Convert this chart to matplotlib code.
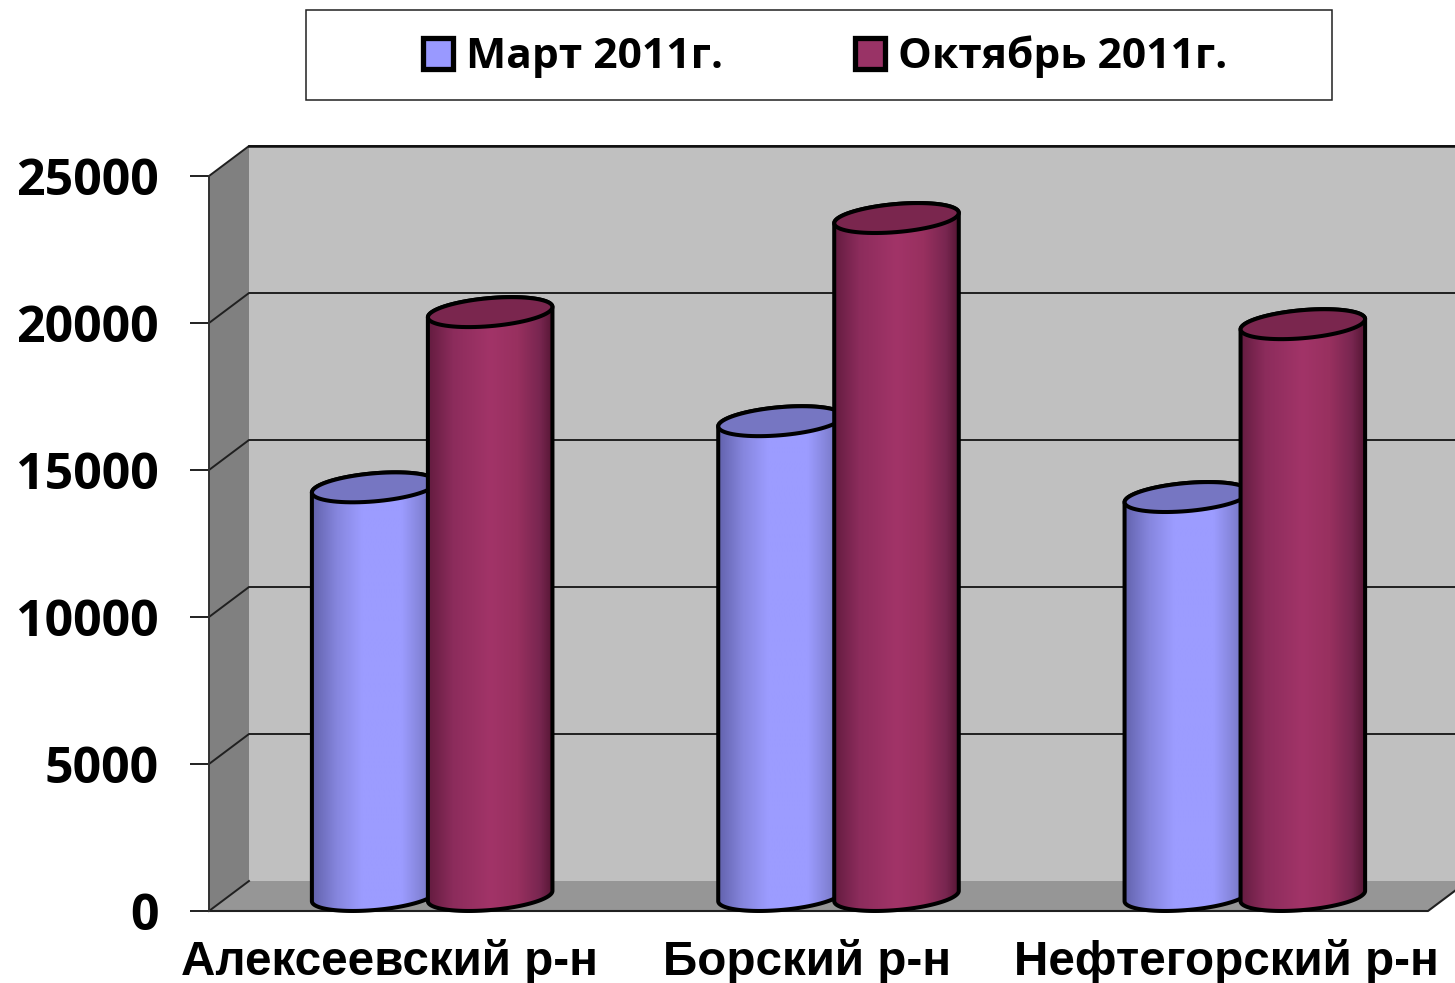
import numpy as np
import matplotlib
matplotlib.use('Agg')
import matplotlib.pyplot as plt
from matplotlib.colors import LinearSegmentedColormap
from matplotlib.patches import Patch, Polygon, Rectangle
from matplotlib.transforms import ScaledTranslation

categories = ['Алексеевский р-н', 'Борский р-н', 'Нефтегорский р-н']
march = [13900, 16150, 13570]
october = [19860, 23060, 19450]
series_names = ['Март 2011г.', 'Октябрь 2011г.']
y_ticks = [0, 5000, 10000, 15000, 20000, 25000]

W, H = 1455, 983
LEFT, RIGHT, TOP, BOTTOM = 209, 1428, 176, 911
PX_X = (RIGHT - LEFT) / 3
PX_Y = (BOTTOM - TOP) / 25000
DEPTH_X = 40 / PX_X
DEPTH_Y = 30 / PX_Y

RADIUS = 62.5
MINOR = 14
TILT = np.radians(5)
EDGE_PT = 2.9

blue_map = LinearSegmentedColormap.from_list('blue', [(0, '#6262AC'), (0.2, '#8686DE'), (0.4, '#9C9CFF'), (0.72, '#9C9CFF'), (0.9, '#8080D2'), (1, '#6666B0')])
red_map = LinearSegmentedColormap.from_list('red', [(0, '#641C40'), (0.2, '#8C2C5C'), (0.5, '#A23468'), (0.72, '#98305F'), (0.9, '#782650'), (1, '#561634')])
series_style = [(blue_map, '#7676C2', '#9999FF'), (red_map, '#7A264E', '#993366')]


def ellipse_points(cx, cy, start, stop):
    t = np.linspace(start, stop, 80)
    ex = RADIUS * np.cos(t)
    ey = MINOR * np.sin(t)
    px = ex * np.cos(TILT) - ey * np.sin(TILT)
    py = ex * np.sin(TILT) + ey * np.cos(TILT)
    return np.column_stack([cx + px / PX_X, cy + py / PX_Y])


def draw_cylinder(ax, x, value, cmap, cap_color, z):
    base = DEPTH_Y / 2
    top = value + base
    # the tangent points of a tilted ellipse sit a little off its long axis
    turn = np.arctan2(-MINOR * np.sin(TILT), RADIUS * np.cos(TILT))
    upper = ellipse_points(x, top, turn, turn + np.pi)
    lower = ellipse_points(x, base, turn + np.pi, turn + 2 * np.pi)
    body = Polygon(np.vstack([upper, lower]), closed=True, facecolor='none', edgecolor='black',
                   lw=EDGE_PT, zorder=z + 0.2, clip_on=False, joinstyle='round')
    half = RADIUS / PX_X
    image = ax.imshow(np.linspace(0, 1, 200)[None, :], cmap=cmap, aspect='auto', zorder=z,
                      extent=(x - half, x + half, 0, top + 1000), interpolation='bilinear')
    ax.add_patch(body)
    image.set_clip_path(body)
    cap = Polygon(ellipse_points(x, top, 0, 2 * np.pi), closed=True, facecolor=cap_color,
                  edgecolor='black', lw=EDGE_PT, zorder=z + 0.3, clip_on=False)
    ax.add_patch(cap)


fig = plt.figure(figsize=(W / 100, H / 100), dpi=100, facecolor='white')
ax = fig.add_axes([LEFT / W, 1 - BOTTOM / H, (RIGHT - LEFT) / W, (BOTTOM - TOP) / H])
ax.patch.set_visible(False)

# walls and floor, pushed back by the fake depth
ax.add_patch(Polygon([(DEPTH_X, DEPTH_Y), (3 + DEPTH_X, DEPTH_Y), (3 + DEPTH_X, 25000 + DEPTH_Y), (DEPTH_X, 25000 + DEPTH_Y)],
                     facecolor='#C0C0C0', edgecolor='none', clip_on=False, zorder=0))
ax.add_patch(Polygon([(0, 0), (DEPTH_X, DEPTH_Y), (DEPTH_X, 25000 + DEPTH_Y), (0, 25000)],
                     facecolor='#808080', edgecolor='none', clip_on=False, zorder=0.1))
ax.add_patch(Polygon([(0, 0), (3, 0), (3 + DEPTH_X, DEPTH_Y), (DEPTH_X, DEPTH_Y)],
                     facecolor='#969696', edgecolor='none', clip_on=False, zorder=0.1))

for tick in y_ticks[1:]:
    ax.plot([0, DEPTH_X, 3 + DEPTH_X], [tick, tick + DEPTH_Y, tick + DEPTH_Y], color='#202020', lw=1.4,
            clip_on=False, zorder=0.5, solid_joinstyle='miter')
ax.plot([0, DEPTH_X], [0, DEPTH_Y], color='#202020', lw=1.4, clip_on=False, zorder=0.5)
ax.plot([0, 3, 3 + DEPTH_X], [0, 0, DEPTH_Y], color='#202020', lw=1.5, clip_on=False, zorder=0.6)
ax.plot([DEPTH_X, 3 + DEPTH_X], [25000 + DEPTH_Y, 25000 + DEPTH_Y], color='#101010', lw=1.8, clip_on=False, zorder=0.6)

group_x = np.arange(3) + 0.5 + 20 / PX_X
offset = 58 / PX_X
for i in range(3):
    z = 2 + i * 2
    draw_cylinder(ax, group_x[i] - offset, march[i], series_style[0][0], series_style[0][1], z)
    draw_cylinder(ax, group_x[i] + offset, october[i], series_style[1][0], series_style[1][1], z + 1)

ax.set_xlim(0, 3)
ax.set_ylim(0, 25000)
for side in ['top', 'right', 'bottom']:
    ax.spines[side].set_visible(False)
ax.spines['left'].set_color('#303030')
ax.spines['left'].set_linewidth(1.4)

ax.set_yticks(y_ticks)
ax.set_yticklabels([str(t) for t in y_ticks], fontname='Open Sans', fontweight='bold', fontsize=36)
ax.tick_params(axis='y', length=14, width=1.4, color='#202020', pad=22)
ax.set_xticks(np.arange(3) + 0.5)
ax.set_xticklabels(categories, fontname='Liberation Sans', fontweight='bold', fontsize=34.3)
ax.tick_params(axis='x', length=0, pad=20)
label_shift = [-23, -11, 2]
for label, shift in zip(ax.get_xticklabels(), label_shift):
    label.set_transform(label.get_transform() + ScaledTranslation(shift / 72 * 0.72, 0, fig.dpi_scale_trans))

# legend frame is separate, the frame of legend() can't be sized freely
fig.add_artist(Rectangle((306 / W, 1 - 100 / H), 1026 / W, 90 / H, transform=fig.transFigure,
                         facecolor='white', edgecolor='#202020', lw=1.1))
handles = [Patch(facecolor=series_style[j][2], edgecolor='black', lw=3.8) for j in range(2)]
fig.legend(handles, series_names, loc='center', bbox_to_anchor=(825 / W, 1 - 57 / H), ncol=2, frameon=False,
           prop={'family': 'Open Sans', 'weight': 'bold', 'size': 30.6}, handlelength=0.72, handleheight=0.72,
           handletextpad=0.3, columnspacing=3.1)

fig.savefig('out.png', dpi=100)
